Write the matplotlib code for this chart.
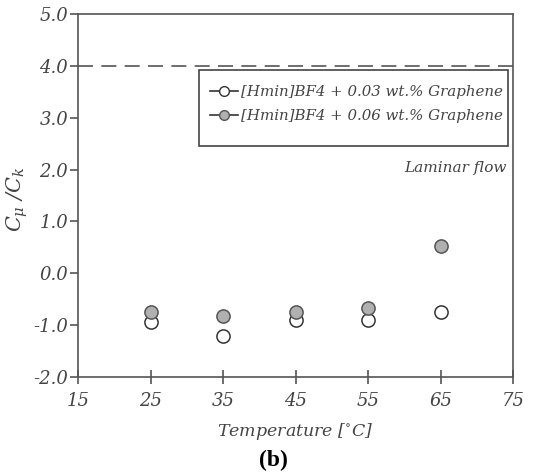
import numpy as np
import matplotlib.pyplot as plt
from matplotlib.patches import Rectangle

plt.rcParams['font.family'] = 'DejaVu Serif'
plt.rcParams['font.style'] = 'italic'
plt.rcParams['mathtext.fontset'] = 'dejavuserif'

temp = [25, 35, 45, 55, 65]
ratio_003 = [-0.94, -1.21, -0.90, -0.90, -0.75]
ratio_006 = [-0.74, -0.83, -0.75, -0.67, 0.52]
laminar_limit = 4.0
labels = ['[Hmin]BF4 + 0.03 wt.% Graphene', '[Hmin]BF4 + 0.06 wt.% Graphene']

grey = '#555555'
txt = '#444444'

fig = plt.figure(figsize=(5.47, 4.73), dpi=100)
ax = fig.add_axes([0.1426, 0.203, 0.7954, 0.767])

ax.axhline(laminar_limit, color=grey, lw=1.2, ls=(0, (9, 5)))
ax.plot(temp, ratio_003, 'o', ms=9.5, mfc='white', mec='#333333', mew=1.1)
ax.plot(temp, ratio_006, 'o', ms=9.5, mfc='#b0b0b0', mec='#555555', mew=1.1)

ax.set_xlim(15, 75)
ax.set_ylim(-2, 5)
ax.set_xticks(np.arange(15, 76, 10))
ax.set_yticks(np.arange(-2, 5.1, 1))
ax.set_yticklabels([f'{v:.1f}' for v in np.arange(-2, 5.1, 1)])
ax.tick_params(width=1.2, colors=grey, labelsize=13, labelcolor=txt)
ax.tick_params(axis='x', direction='inout', length=10, pad=6)
ax.tick_params(axis='y', direction='out', length=6, pad=1)
for s in ax.spines.values():
    s.set_color(grey)
    s.set_linewidth(1.2)

ax.set_xlabel('Temperature [$^{\\circ}$C]', fontsize=12.5, color=txt, labelpad=8)
ax.set_ylabel('$C_{\\mu}\\ /C_k$', fontsize=15, color=txt)
ax.yaxis.set_label_coords(-0.11, 0.49)

# legend: frame drawn separately (wide vertical padding, tight horizontal)
ax.add_patch(Rectangle((0.278, 0.636), 0.711, 0.21, transform=ax.transAxes,
                       fill=False, ec=txt, lw=1.2, zorder=3))
h1, = ax.plot([], [], '-o', color='#333333', ms=7, mfc='white', mec='#333333', lw=1.2)
h2, = ax.plot([], [], '-o', color='#333333', ms=7, mfc='#b0b0b0', mec='#555555', lw=1.2)
leg = ax.legend([h1, h2], labels, loc='center', bbox_to_anchor=(0.64, 0.752),
                fontsize=10.8, frameon=False, handlelength=1.9,
                handletextpad=0.2, borderpad=0, labelspacing=0.7)
for t in leg.get_texts():
    t.set_color(txt)

ax.text(0.985, 0.575, 'Laminar flow', transform=ax.transAxes, ha='right', va='center',
        fontsize=11, color=txt)

fig.text(0.5, 0.005, '(b)', ha='center', va='bottom', fontsize=17, fontweight='bold',
         style='normal', family='Liberation Serif')

fig.savefig('out.png', dpi=100)
